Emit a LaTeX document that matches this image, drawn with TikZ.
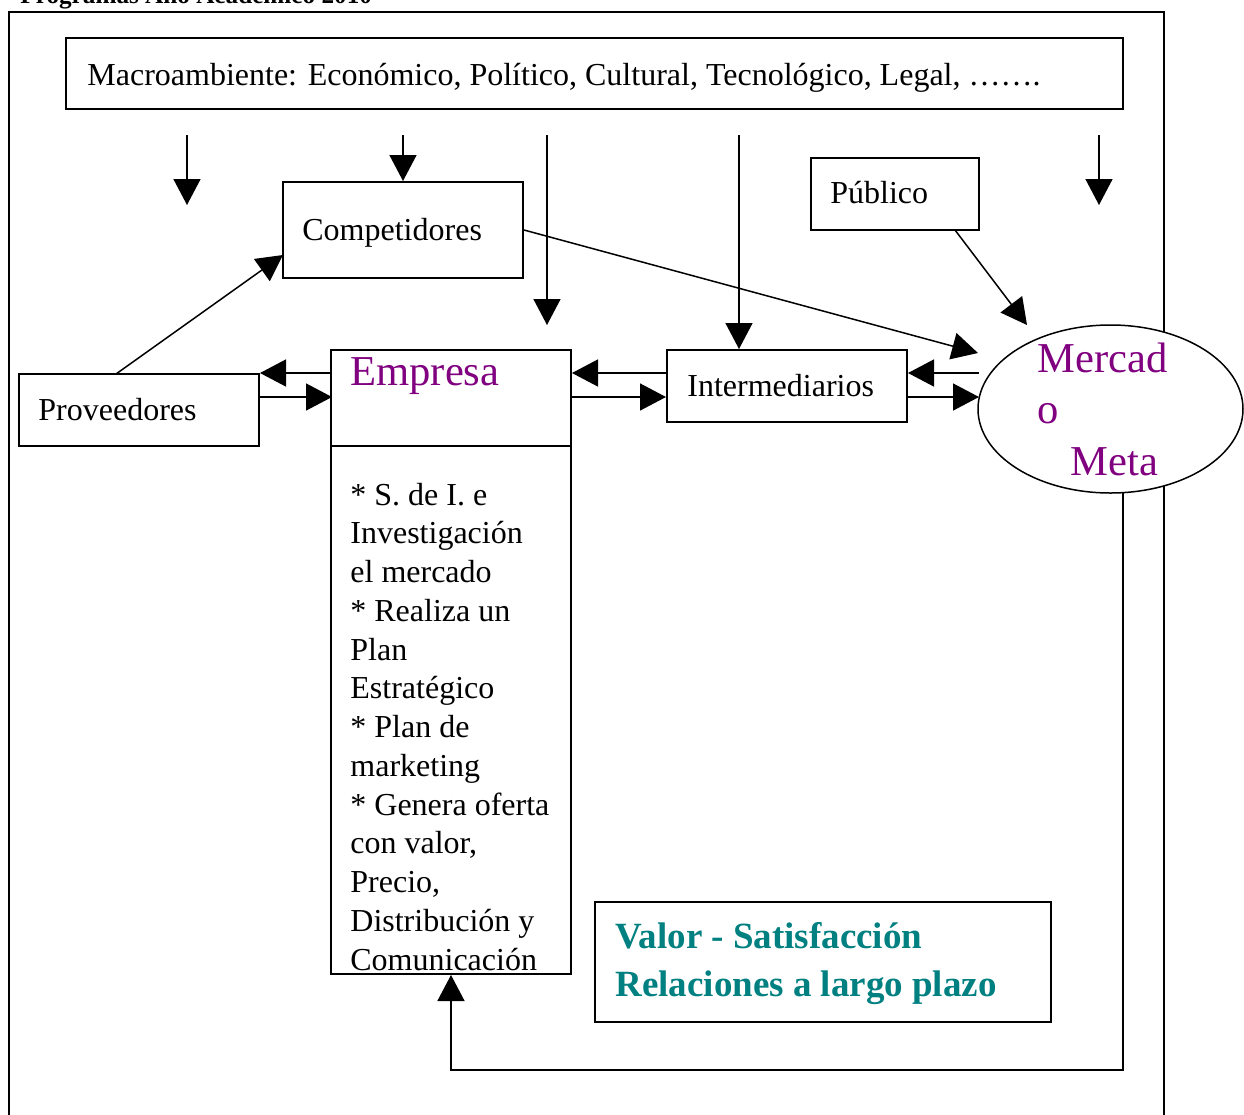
\documentclass[tikz,border=0pt]{standalone}
\usepackage{fontspec}
\setmainfont{Liberation Serif}
\usetikzlibrary{arrows.meta,calc,shapes.geometric}
\definecolor{mpurple}{HTML}{800080}
\definecolor{mteal}{HTML}{008080}
\begin{document}
\begin{tikzpicture}[x=0.5pt,y=-0.5pt,
  box/.style={draw,line width=1pt,fill=white,rectangle,inner sep=0pt},
  txt/.style={anchor=base west,inner sep=0pt,font=\fontsize{16}{19.4}\selectfont},
  big/.style={anchor=base west,inner sep=0pt,font=\fontsize{21.3}{25}\selectfont,text=mpurple},
  val/.style={anchor=base west,inner sep=0pt,font=\fontsize{18.5}{22}\selectfont\bfseries,text=mteal},
  conn/.style={line width=0.75pt},
  arr/.style={line width=0.75pt,-{Triangle[length=13pt,width=13.5pt]}}]
\useasboundingbox (0,0) rectangle (1244,1115);
\clip (0,0) rectangle (1244,1115);
% header (cut off)
\node[anchor=base west,inner sep=0pt,font=\fontsize{12.6}{15}\selectfont\bfseries] (hdr) at (20,3) {Programas Año Académico 2010};
% outer frame
\draw[line width=1pt] (9,1120) -- (9,12) -- (1164,12) -- (1164,1120);
% boxes
\node[box,minimum width=528.5pt,minimum height=35.5pt] (macro) at (594.5,73.5) {};
\node[box,minimum width=120pt,minimum height=48pt] (comp) at (403,230) {};
\node[box,minimum width=84pt,minimum height=36pt] (pub) at (895,194) {};
\node[box,minimum width=120pt,minimum height=36pt] (prov) at (139,410) {};
\node[box,minimum width=120pt,minimum height=312pt] (emp) at (451,662) {};
\node[box,minimum width=120pt,minimum height=36pt] (inter) at (787,386) {};
\node[box,minimum width=228pt,minimum height=60pt] (valor) at (823,962) {};
\node[draw,line width=0.75pt,fill=white,ellipse,minimum width=132.5pt,minimum height=84pt,inner sep=0pt] (merc) at (1110.5,409) {};
\draw[line width=1pt] (emp.west |- 0,446) -- (emp.east |- 0,446);
% texts
\node[txt] (tmacro) at (87,85) {Macroambiente: Económico, Político, Cultural, Tecnológico, Legal, …….};
\node[txt] (tcomp) at (302,240) {Competidores};
\node[txt] (tpub) at (830,203) {Público};
\node[txt] (tprov) at (38,420) {Proveedores};
\node[txt] (tinter) at (687,396) {Intermediarios};
\node[big] (temp) at (350,385) {Empresa};
\node[big] (tm1) at (1037,372) {Mercad};
\node[big] (tm2) at (1037,423) {o};
\node[big] (tm3) at (1070,475) {Meta};
\foreach \t [count=\i] in {{* S. de I. e},{Investigación},{el mercado},{* Realiza un},{Plan},{Estratégico},{* Plan de},{marketing},{* Genera oferta},{con valor,},{Precio,},{Distribución y},{Comunicación}}
  \node[txt] (l\i) at (350,{505+38.75*(\i-1)}) {\t};
\node[val] (tv1) at (615,948) {Valor - Satisfacción};
\node[val] (tv2) at (615,996) {Relaciones a largo plazo};
% down arrows from macroambiente
\coordinate (d1s) at (187,135); \coordinate (d1e) at (187,205);
\coordinate (d2s) at (403,135);
\coordinate (d3s) at (547,135); \coordinate (d3e) at (547,325);
\coordinate (d4s) at (739,135);
\coordinate (d5s) at (1099,135); \coordinate (d5e) at (1099,205);
\draw[arr] (d1s) -- (d1e);
\draw[arr] (d2s) -- (comp.north);
\draw[arr] (d3s) -- (d3e);
\draw[arr] (d4s) -- (d4s |- inter.north);
\draw[arr] (d5s) -- (d5e);
% diagonal arrows
\coordinate (ce) at (978,353);
\coordinate (pe) at (1027,325);
\draw[arr] (116,374) -- (283,255);
\draw[arr] (comp.east) -- (ce);
\draw[arr] (955,230) -- (pe);
% horizontal arrows
\draw[arr] (emp.west |- prov.north) -- (prov.north east);
\draw[arr] ($(prov.north east)+(0,24)$) -- ($(prov.north east)+(72,24)$);
\draw[arr] ($(inter.north west)+(0,24)$) -- ($(emp.north east)+(0,24)$);
\draw[arr] ($(emp.north east)+(0,48)$) -- ($(inter.north west)+(0,48)$);
\draw[arr] ($(inter.north east)+(71,24)$) -- ($(inter.north east)+(0,24)$);
\draw[arr] ($(inter.north east)+(0,48)$) -- ($(inter.north east)+(71,48)$);
% feedback
\coordinate (fb) at (1123,493);
\draw[arr] (fb) -- (1123,1070) -- (451,1070) -- (emp.south);
\end{tikzpicture}
\end{document}
